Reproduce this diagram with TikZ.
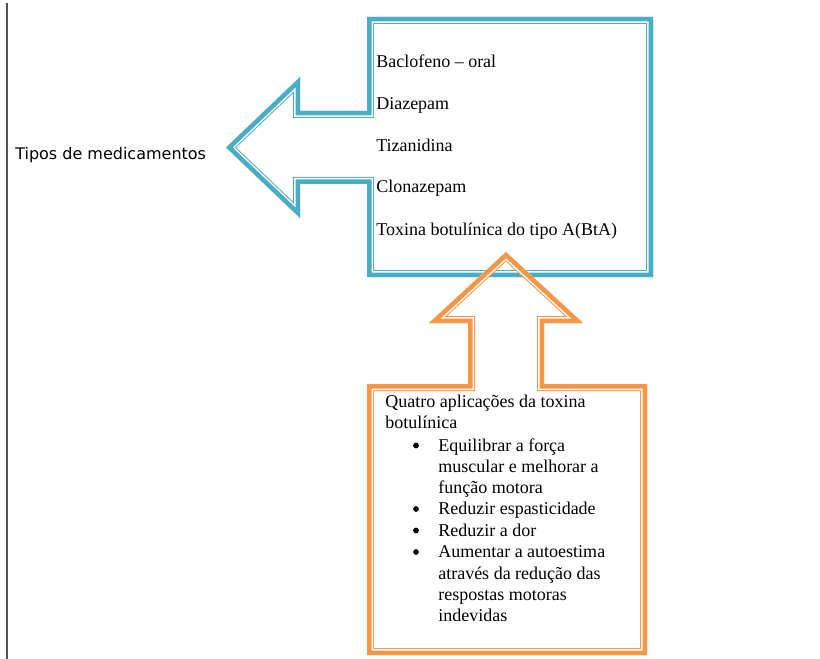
\documentclass[tikz,border=0pt]{standalone}
\usepackage{fontspec}
\setmainfont{Liberation Serif}
\newfontfamily\sansfam{DejaVu Sans}
\definecolor{tealc}{HTML}{4BACC6}
\definecolor{orangec}{HTML}{F79646}
\definecolor{rulec}{HTML}{555555}
\begin{document}
\begin{tikzpicture}[x=0.75pt,y=-0.75pt,
  txt/.style={font=\fontsize{13.5}{16}\selectfont, inner sep=0pt, anchor=base west},
  bul/.style={circle, fill=black, inner sep=0pt, minimum size=4.3pt},
  lineA/.style={line width=10.5pt, line join=miter},
  lineB/.style={line width=9pt, line join=miter, white},
  lineC/.style={line width=6.75pt, line join=miter}]
\useasboundingbox (0,0) rectangle (820,659);
\draw[rulec, line width=1.1pt] (7,3) -- (7,659);

\def\tealpath{(367,17) -- (653,17) -- (653,277) -- (367,277) -- (367,184) -- (300,184) -- (300,218) -- (226,147.5) -- (300,77) -- (300,111) -- (367,111) -- cycle}
\def\orangepath{(367,384) -- (468,384) -- (468,323) -- (429,323) -- (506,252) -- (583,323) -- (544,323) -- (544,384) -- (647,384) -- (647,655) -- (367,655) -- cycle}

\begin{scope}
  \clip \tealpath;
  \draw[lineA, tealc] \tealpath;
  \draw[lineB] \tealpath;
  \draw[lineC, tealc] \tealpath;
\end{scope}
\begin{scope}
  \clip \orangepath;
  \draw[lineA, orangec] \orangepath;
  \draw[lineB] \orangepath;
  \draw[lineC, orangec] \orangepath;
\end{scope}

\node[font=\sansfam\fontsize{12}{14}\selectfont, anchor=base west, inner sep=0pt] (tipos) at (15,160) {Tipos de medicamentos};

\node[txt] (m1) at (376,68) {Baclofeno – oral};
\node[txt] (m2) at (376,110) {Diazepam};
\node[txt] (m3) at (376,151.5) {Tizanidina};
\node[txt] (m4) at (376,193) {Clonazepam};
\node[txt] (m5) at (376,235) {Toxina botulínica do tipo A(BtA)};

\node[txt] (q1) at (385,407) {Quatro aplicações da toxina};
\node[txt] (q2) at (385,428) {botulínica};
\node[bul] (b1) at (416,445.5) {};
\node[txt] (e1) at (438,451) {Equilibrar a força};
\node[txt] (e2) at (438,472) {muscular e melhorar a};
\node[txt] (e3) at (438,493) {função motora};
\node[bul] (b2) at (416,509) {};
\node[txt] (r1) at (438,514.5) {Reduzir espasticidade};
\node[bul] (b3) at (416,530.5) {};
\node[txt] (r2) at (438,536) {Reduzir a dor};
\node[bul] (b4) at (416,552) {};
\node[txt] (a1) at (438,557.5) {Aumentar a autoestima};
\node[txt] (a2) at (438,579) {através da redução das};
\node[txt] (a3) at (438,600) {respostas motoras};
\node[txt] (a4) at (438,621) {indevidas};
\end{tikzpicture}
\end{document}
